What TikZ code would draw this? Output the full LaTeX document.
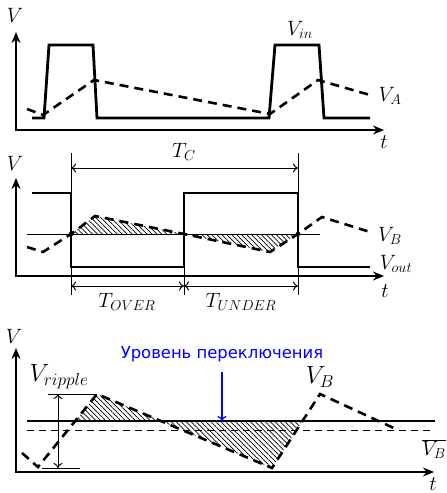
\documentclass[tikz,border=0pt]{standalone}
\usepackage{fontspec}
\newfontfamily\rufont{DejaVu Sans}
\usetikzlibrary{arrows.meta,patterns.meta}
\begin{document}
\begin{tikzpicture}[x=1pt,y=-1pt,
  axis/.style={line width=1.8pt,{Stealth[length=11pt,width=9pt]}-{Stealth[length=11pt,width=9pt]}},
  sig/.style={line width=2.8pt,line join=miter},
  dsig/.style={line width=2.6pt,dash pattern=on 9pt off 6pt},
  guide/.style={line width=0.8pt},
  dim/.style={line width=1pt,{To[length=5pt,width=9pt]}-{To[length=5pt,width=9pt]}},
  hatch/.style={pattern={Lines[angle=-45,distance=3.5pt,line width=0.7pt]}},
  lbl/.style={font=\fontsize{20}{24}\selectfont, inner sep=0pt},
  biglbl/.style={font=\fontsize{24}{28}\selectfont, inner sep=0pt},
]
\path[use as bounding box] (0,0) rectangle (447,493);

% ---------- top panel ----------
\draw[axis] (16,32) -- (16,130) -- (384,130);
\draw[sig] (32,118) -- (44,118) -- (49,45) -- (93,45) -- (97,118) -- (269,118) -- (275,45) -- (319,45) -- (324,118) -- (370,118);
\draw[dsig] (27,109) -- (43,115) -- (94,80) -- (270,114) -- (318,80) -- (370,95);
\node[lbl] (v1) at (15,15) {$V$};
\node[lbl] (vin) at (300,30) {$V_{in}$};
\node[lbl] (va) at (390,96) {$V_A$};
\node[lbl] (t1) at (384,142) {$t$};

% ---------- middle panel ----------
\fill[hatch] (71,234) -- (95,216) -- (184,234) -- cycle;
\fill[hatch] (184,234) -- (270,252) -- (298,234) -- cycle;
\draw[guide] (27,234) -- (320,234);
\draw[axis] (16,178) -- (16,276) -- (384,276);
\draw[sig] (32,193) -- (71,193) -- (71,267) -- (184,267) -- (184,193) -- (298,193) -- (298,267) -- (370,267);
\draw[dsig] (27,247) -- (43,252) -- (71,234) -- (95,216) -- (184,234) -- (270,252) -- (298,234) -- (322,217) -- (370,232);
\fill (71,234) circle (2.3);
\fill (298,234) circle (2.3);
\coordinate (gA1) at (71,153); \coordinate (gA2) at (71,295);
\coordinate (gB1) at (298,153); \coordinate (gB2) at (298,295);
\coordinate (gC1) at (184,267); \coordinate (gC2) at (184,295);
\draw[guide] (gA1) -- (gA2);
\draw[guide] (gB1) -- (gB2);
\draw[guide] (gC1) -- (gC2);
\draw[dim] (71,168) -- (298,168);
\draw[dim] (71,286) -- (184,286);
\draw[dim] (184,286) -- (298,286);
\node[lbl] (v2) at (15,163) {$V$};
\node[lbl] (tc) at (184,152) {$T_C$};
\node[lbl] (vb2) at (390,236) {$V_B$};
\node[lbl] (vout) at (396,264) {$V_{out}$};
\node[lbl] (t2) at (385,291) {$t$};
\node[lbl] (tover) at (127,302) {$T_{OVER}$};
\node[lbl] (tunder) at (241,302) {$T_{UNDER}$};

% ---------- bottom panel ----------
\fill[hatch] (75.2,421) -- (97,394) -- (160.9,421) -- cycle;
\fill[hatch] (160.9,421) -- (272,468) -- (302.5,421) -- cycle;
\draw[line width=1.3pt] (27,421) -- (435,421);
\draw[line width=0.9pt,dash pattern=on 7pt off 5pt] (27,430) -- (435,430);
\draw[axis] (16,348) -- (16,472) -- (434,472);
\draw[dsig] (22,453) -- (38,467) -- (97,394) -- (272,468) -- (320,394) -- (398,430);
\draw[guide] (48,394) -- (97,394);
\draw[guide] (42,468) -- (80,468);
\draw[dim] (58,394) -- (58,468);
\node[lbl] (v3) at (14,336) {$V$};
\node[biglbl] (vr) at (59,377) {$V_{ripple}$};
\node[biglbl] (vb3) at (320,377) {$V_B$};
\node[lbl] (vbbar) at (434,449) {$\overline{V_B}$};
\node[lbl] (t3) at (433,484) {$t$};
\node[blue,inner sep=0pt,font=\rufont\fontsize{16.4}{19}\selectfont] (lvl) at (222,354) {Уровень переключения};
\coordinate (lvlA) at (222,372);
\coordinate (lvlB) at (222,421);
\draw[blue,line width=1.3pt,-{To[length=5pt,width=9pt]}] (lvlA) -- (lvlB);
\end{tikzpicture}
\end{document}
